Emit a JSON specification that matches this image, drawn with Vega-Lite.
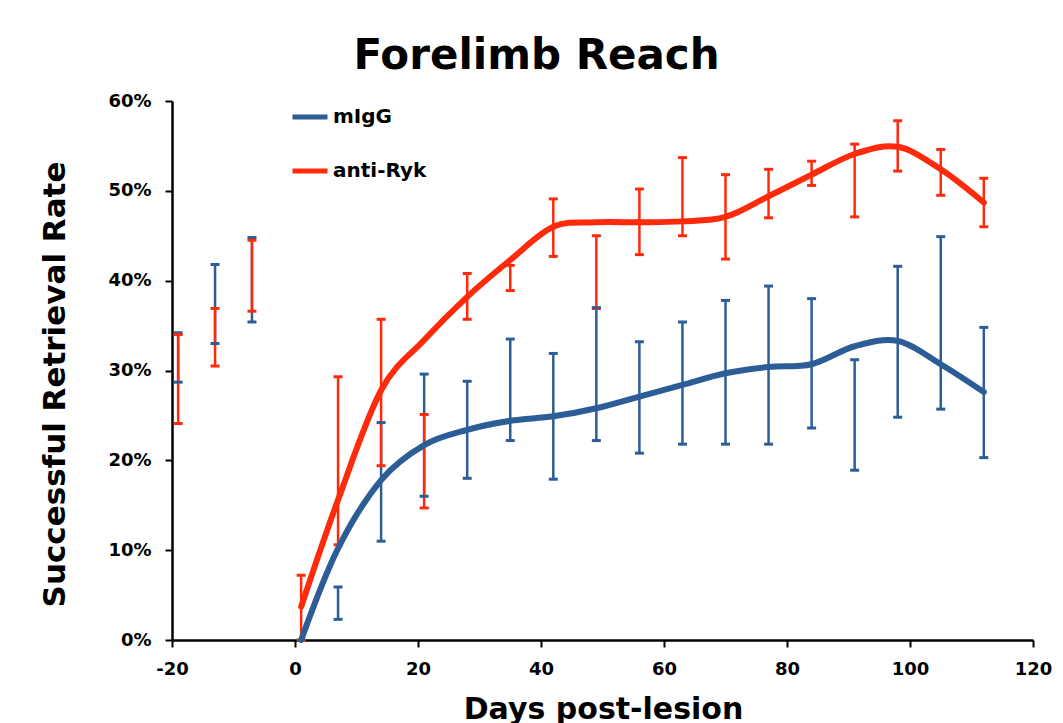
{
  "$schema": "https://vega.github.io/schema/vega-lite/v6.json",
  "width": 861,
  "height": 539,
  "autosize": {"type": "none"},
  "padding": {"left": 172, "top": 101, "right": 30, "bottom": 83},
  "background": "white",
  "title": {"text": "Forelimb Reach", "font": "DejaVu Sans", "fontSize": 42, "fontWeight": "bold", "color": "black", "anchor": "middle", "frame": "group", "dx": -66, "dy": 43, "baseline": "alphabetic", "offset": 24},
  "data": {"values": [
    {"group": "mIgG", "day": -19, "mean": null, "lo": 0.287, "hi": 0.342},
    {"group": "mIgG", "day": -13, "mean": null, "lo": 0.330, "hi": 0.418},
    {"group": "mIgG", "day": -7, "mean": null, "lo": 0.354, "hi": 0.448},
    {"group": "mIgG", "day": 1, "mean": 0.0, "lo": null, "hi": null},
    {"group": "mIgG", "day": 7, "mean": 0.102, "lo": 0.023, "hi": 0.059},
    {"group": "mIgG", "day": 14, "mean": 0.178, "lo": 0.110, "hi": 0.242},
    {"group": "mIgG", "day": 21, "mean": 0.217, "lo": 0.160, "hi": 0.296},
    {"group": "mIgG", "day": 28, "mean": 0.234, "lo": 0.180, "hi": 0.288},
    {"group": "mIgG", "day": 35, "mean": 0.244, "lo": 0.222, "hi": 0.335},
    {"group": "mIgG", "day": 42, "mean": 0.249, "lo": 0.179, "hi": 0.319},
    {"group": "mIgG", "day": 49, "mean": 0.258, "lo": 0.222, "hi": 0.370},
    {"group": "mIgG", "day": 56, "mean": 0.271, "lo": 0.208, "hi": 0.332},
    {"group": "mIgG", "day": 63, "mean": 0.284, "lo": 0.218, "hi": 0.354},
    {"group": "mIgG", "day": 70, "mean": 0.297, "lo": 0.218, "hi": 0.378},
    {"group": "mIgG", "day": 77, "mean": 0.304, "lo": 0.218, "hi": 0.394},
    {"group": "mIgG", "day": 84, "mean": 0.307, "lo": 0.236, "hi": 0.380},
    {"group": "mIgG", "day": 91, "mean": 0.327, "lo": 0.189, "hi": 0.312},
    {"group": "mIgG", "day": 98, "mean": 0.333, "lo": 0.248, "hi": 0.416},
    {"group": "mIgG", "day": 105, "mean": 0.307, "lo": 0.257, "hi": 0.449},
    {"group": "mIgG", "day": 112, "mean": 0.276, "lo": 0.203, "hi": 0.348},
    {"group": "anti-Ryk", "day": -19, "mean": null, "lo": 0.241, "hi": 0.340},
    {"group": "anti-Ryk", "day": -13, "mean": null, "lo": 0.305, "hi": 0.369},
    {"group": "anti-Ryk", "day": -7, "mean": null, "lo": 0.366, "hi": 0.445},
    {"group": "anti-Ryk", "day": 1, "mean": 0.037, "lo": 0.0, "hi": 0.072},
    {"group": "anti-Ryk", "day": 7, "mean": 0.156, "lo": 0.106, "hi": 0.293},
    {"group": "anti-Ryk", "day": 14, "mean": 0.278, "lo": 0.194, "hi": 0.357},
    {"group": "anti-Ryk", "day": 21, "mean": 0.334, "lo": 0.147, "hi": 0.251},
    {"group": "anti-Ryk", "day": 28, "mean": 0.382, "lo": 0.357, "hi": 0.408},
    {"group": "anti-Ryk", "day": 35, "mean": 0.423, "lo": 0.389, "hi": 0.417},
    {"group": "anti-Ryk", "day": 42, "mean": 0.460, "lo": 0.427, "hi": 0.491},
    {"group": "anti-Ryk", "day": 49, "mean": 0.465, "lo": 0.369, "hi": 0.450},
    {"group": "anti-Ryk", "day": 56, "mean": 0.465, "lo": 0.429, "hi": 0.502},
    {"group": "anti-Ryk", "day": 63, "mean": 0.466, "lo": 0.450, "hi": 0.537},
    {"group": "anti-Ryk", "day": 70, "mean": 0.471, "lo": 0.424, "hi": 0.518},
    {"group": "anti-Ryk", "day": 77, "mean": 0.494, "lo": 0.470, "hi": 0.524},
    {"group": "anti-Ryk", "day": 84, "mean": 0.518, "lo": 0.506, "hi": 0.533},
    {"group": "anti-Ryk", "day": 91, "mean": 0.541, "lo": 0.471, "hi": 0.552},
    {"group": "anti-Ryk", "day": 98, "mean": 0.549, "lo": 0.522, "hi": 0.578},
    {"group": "anti-Ryk", "day": 105, "mean": 0.524, "lo": 0.495, "hi": 0.546},
    {"group": "anti-Ryk", "day": 112, "mean": 0.487, "lo": 0.460, "hi": 0.514}
  ]},
  "encoding": {
    "x": {"field": "day", "type": "quantitative", "scale": {"domain": [-20, 120], "nice": false, "zero": false},
      "axis": {"title": "Days post-lesion", "values": [-20, 0, 20, 40, 60, 80, 100, 120], "labelExpr": "replace(datum.label, '\u2212', '-')", "titleX": 431, "titleY": 78, "titleBaseline": "alphabetic", "titleAlign": "center"}},
    "color": {"field": "group", "type": "nominal", "scale": {"domain": ["mIgG", "anti-Ryk"], "range": ["#2c5d96", "#ff2a0a"]}, "legend": {"title": null}}
  },
  "layer": [
    {
      "mark": {"type": "rule", "strokeWidth": 2.5},
      "encoding": {
        "y": {"field": "lo", "type": "quantitative", "scale": {"domain": [0, 0.6], "nice": false},
          "axis": {"title": "Successful Retrieval Rate", "format": ".0%", "values": [0, 0.1, 0.2, 0.3, 0.4, 0.5, 0.6], "titleAngle": 270, "titleX": -108, "titleY": 283, "titleFontSize": 31, "titleBaseline": "alphabetic", "titleAlign": "center"}},
        "y2": {"field": "hi"}
      }
    },
    {
      "mark": {"type": "tick", "orient": "horizontal", "size": 9, "thickness": 3},
      "encoding": {"y": {"field": "lo", "type": "quantitative"}}
    },
    {
      "mark": {"type": "tick", "orient": "horizontal", "size": 9, "thickness": 3},
      "encoding": {"y": {"field": "hi", "type": "quantitative"}}
    },
    {
      "transform": [{"filter": "datum.day > 0"}],
      "mark": {"type": "line", "interpolate": "cardinal", "strokeWidth": 6, "strokeCap": "round"},
      "encoding": {"y": {"field": "mean", "type": "quantitative"}}
    }
  ],
  "config": {
    "font": "DejaVu Sans",
    "view": {"stroke": null},
    "tick": {"opacity": 1},
    "axis": {
      "grid": false,
      "domainColor": "black",
      "domainWidth": 2.5,
      "tickColor": "black",
      "tickWidth": 2,
      "tickSize": 7,
      "labelFont": "DejaVu Sans",
      "labelFontSize": 18,
      "labelFontWeight": "bold",
      "labelColor": "black",
      "labelFlush": false,
      "labelOverlap": false,
      "titleFont": "DejaVu Sans",
      "titleFontSize": 30,
      "titleFontWeight": "bold",
      "titleColor": "black"
    },
    "axisX": {"labelPadding": 13},
    "axisY": {"labelPadding": 14},
    "legend": {
      "orient": "none",
      "legendX": 118,
      "legendY": -4,
      "symbolType": "stroke",
      "symbolSize": 1225,
      "symbolStrokeWidth": 5,
      "symbolOpacity": 1,
      "labelFont": "DejaVu Sans",
      "labelFontSize": 20,
      "labelFontWeight": "bold",
      "labelColor": "black",
      "labelOffset": 3,
      "rowPadding": 24
    }
  }
}
